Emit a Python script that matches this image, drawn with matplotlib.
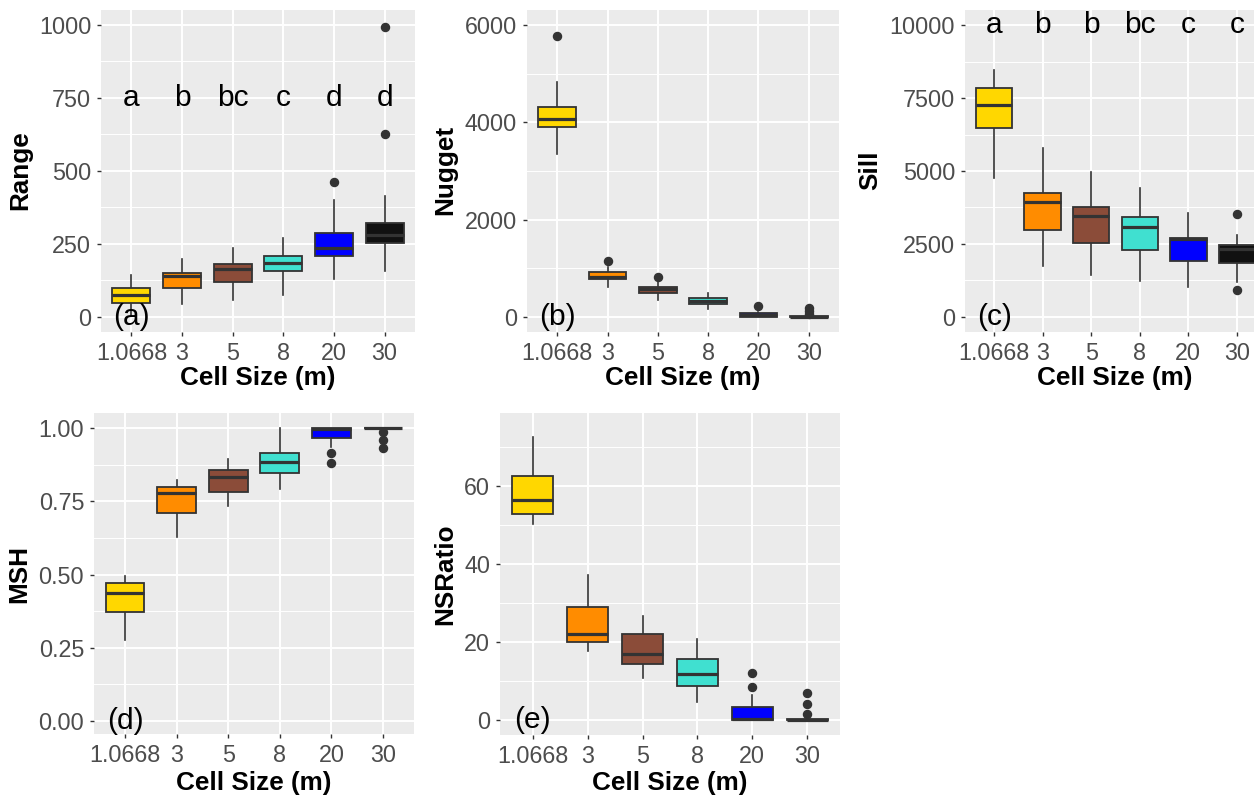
import numpy as np
import matplotlib
matplotlib.use('Agg')
import matplotlib.pyplot as plt

plt.rcParams['font.family'] = ['Liberation Sans', 'DejaVu Sans']

#---------------------------------- data ------------------------------------------

cell_sizes = ['1.0668', '3', '5', '8', '20', '30']
box_colors = ['#FFD700', '#FF8C00', '#8B4C39', '#40E0D0', '#0000FF', '#111111']

# Range
range_lo = [5, 45, 58, 75, 129, 158]
range_q1 = [47, 98, 121, 158, 210, 252]
range_med = [75, 140, 165, 186, 235, 281]
range_q3 = [98, 150, 180, 210, 287, 323]
range_hi = [144, 197, 235, 269, 400, 414]
range_out = [[], [], [], [], [463], [625, 992]]
range_letters = ['a', 'b', 'bc', 'c', 'd', 'd']

# Nugget
nugget_lo = [3350, 610, 350, 158, 0, 0]
nugget_q1 = [3897, 775, 487, 267, 0, 0]
nugget_med = [4069, 828, 582, 335, 40, 0]
nugget_q3 = [4322, 931, 623, 397, 80, 12]
nugget_hi = [4836, 1034, 725, 487, 110, 25]
nugget_out = [[5781], [1151], [828], [], [226], [60, 115, 175]]

# Sill
sill_lo = [4748, 1758, 1438, 1244, 1016, 1210]
sill_q1 = [6463, 2980, 2545, 2295, 1929, 1860]
sill_med = [7261, 3928, 3459, 3093, 2660, 2330]
sill_q3 = [7833, 4236, 3756, 3414, 2717, 2480]
sill_hi = [8460, 5777, 4977, 4407, 3573, 2808]
sill_out = [[], [], [], [], [], [925, 3516]]
sill_letters = ['a', 'b', 'b', 'bc', 'c', 'c']

# MSH
msh_lo = [0.276, 0.629, 0.734, 0.792, 0.936, 1.0]
msh_q1 = [0.373, 0.711, 0.783, 0.845, 0.967, 1.0]
msh_med = [0.438, 0.779, 0.834, 0.885, 0.998, 1.0]
msh_q3 = [0.472, 0.800, 0.857, 0.914, 1.0, 1.0]
msh_hi = [0.495, 0.823, 0.894, 0.999, 1.0, 1.0]
msh_out = [[], [], [], [], [0.880, 0.914], [0.930, 0.960, 0.985]]

# NSRatio
nsr_lo = [50.3, 17.8, 10.7, 4.7, 0, 0]
nsr_q1 = [52.8, 20.1, 14.3, 8.8, 0, 0]
nsr_med = [56.4, 22.0, 16.8, 11.8, 0.3, 0]
nsr_q3 = [62.6, 28.9, 22.0, 15.6, 3.3, 0.2]
nsr_hi = [72.5, 37.2, 26.7, 20.8, 6.4, 0.4]
nsr_out = [[], [], [], [], [8.5, 12.1], [1.5, 4.1, 6.8]]

#---------------------------------------------------------------------------------

W, H = 1254, 796
fig = plt.figure(figsize=(W / 100, H / 100), dpi=100)

GRAY20 = '#333333'
TICKCOL = '#4D4D4D'


def make_axes(x0, x1, y0, y1):
    # pixel box (top-left origin) -> figure fraction
    return fig.add_axes([x0 / W, 1 - y1 / H, (x1 - x0) / W, (y1 - y0) / H])


def draw_panel(ax, lo, q1, med, q3, hi, out, ylim, yticks, yticklabels, minor):
    stats = []
    for i in range(len(cell_sizes)):
        stats.append(dict(whislo=lo[i], q1=q1[i], med=med[i], q3=q3[i],
                          whishi=hi[i], fliers=out[i]))
    pos = np.arange(1, len(cell_sizes) + 1)
    ax.set_facecolor('#EBEBEB')
    for m in minor:
        ax.axhline(m, color='white', lw=0.7, zorder=0)
    for t in yticks:
        ax.axhline(t, color='white', lw=1.4, zorder=0)
    for p in pos:
        ax.axvline(p, color='white', lw=1.4, zorder=0)
    bp = ax.bxp(stats, positions=pos, widths=0.75, patch_artist=True,
                showcaps=False,
                boxprops=dict(edgecolor=GRAY20, linewidth=1.3),
                whiskerprops=dict(color=GRAY20, linewidth=1.2),
                medianprops=dict(color=GRAY20, linewidth=2.3),
                flierprops=dict(marker='o', markerfacecolor=GRAY20,
                                markeredgecolor=GRAY20, markersize=5.8))
    for patch, c in zip(bp['boxes'], box_colors):
        patch.set_facecolor(c)
    for w in bp['whiskers']:
        w.set_zorder(1)
    ax.set_xlim(0.4, 6.6)
    ax.set_ylim(*ylim)
    ax.set_xticks(pos)
    ax.set_xticklabels(cell_sizes)
    ax.set_yticks(yticks)
    ax.set_yticklabels(yticklabels)
    ax.tick_params(axis='both', colors=GRAY20, labelcolor=TICKCOL,
                   labelsize=16.8, length=2.6, width=1.0)
    ax.tick_params(axis='x', pad=4.5)
    ax.tick_params(axis='y', pad=4.5)
    for s in ax.spines.values():
        s.set_visible(False)


def fig_text(x, y, s, **kw):
    fig.text(x / W, 1 - y / H, s, **kw)


# (a) Range
ax_a = make_axes(101, 415, 10, 332)
draw_panel(ax_a, range_lo, range_q1, range_med, range_q3, range_hi, range_out,
           (-51.4, 1051), [0, 250, 500, 750, 1000], ['0', '250', '500', '750', '1000'],
           [125, 375, 625, 875])
for i, t in enumerate(range_letters):
    ax_a.text(i + 1, 750, t, ha='center', va='center', fontsize=21.5)
ax_a.text(1, 0, '(a)', ha='center', va='center', fontsize=21.5)

# (b) Nugget
ax_b = make_axes(527, 839, 10, 332)
draw_panel(ax_b, nugget_lo, nugget_q1, nugget_med, nugget_q3, nugget_hi, nugget_out,
           (-308, 6308), [0, 2000, 4000, 6000], ['0', '2000', '4000', '6000'],
           [1000, 3000, 5000])
ax_b.text(1, 0, '(b)', ha='center', va='center', fontsize=21.5)

# (c) Sill
ax_c = make_axes(965, 1266, 10, 332)
draw_panel(ax_c, sill_lo, sill_q1, sill_med, sill_q3, sill_hi, sill_out,
           (-514, 10514), [0, 2500, 5000, 7500, 10000],
           ['0', '2500', '5000', '7500', '10000'],
           [1250, 3750, 6250, 8750])
for i, t in enumerate(sill_letters):
    ax_c.text(i + 1, 10000, t, ha='center', va='center', fontsize=21.5)
ax_c.text(1, 0, '(c)', ha='center', va='center', fontsize=21.5)

# (d) MSH
ax_d = make_axes(94, 414, 413, 734)
draw_panel(ax_d, msh_lo, msh_q1, msh_med, msh_q3, msh_hi, msh_out,
           (-0.044, 1.051), [0, 0.25, 0.5, 0.75, 1.0],
           ['0.00', '0.25', '0.50', '0.75', '1.00'],
           [0.125, 0.375, 0.625, 0.875])
ax_d.text(1, 0, '(d)', ha='center', va='center', fontsize=21.5)

# (e) NSRatio
ax_e = make_axes(500, 840, 413, 735)
draw_panel(ax_e, nsr_lo, nsr_q1, nsr_med, nsr_q3, nsr_hi, nsr_out,
           (-3.85, 78.7), [0, 20, 40, 60], ['0', '20', '40', '60'],
           [10, 30, 50, 70])
ax_e.text(1, 0, '(e)', ha='center', va='center', fontsize=21.5)

#------------------------------- axis titles --------------------------------------

bold = dict(fontsize=18.8, fontweight='bold', ha='center', va='center')
fig_text(258, 378, 'Cell Size (m)', **bold)
fig_text(683, 378, 'Cell Size (m)', **bold)
fig_text(1115, 378, 'Cell Size (m)', **bold)
fig_text(254, 783, 'Cell Size (m)', **bold)
fig_text(670, 783, 'Cell Size (m)', **bold)

fig_text(20, 170, 'Range', rotation=90, **bold)
fig_text(445, 170, 'Nugget', rotation=90, **bold)
fig_text(870, 170, 'Sill', rotation=90, **bold)
fig_text(19, 574, 'MSH', rotation=90, **bold)
fig_text(445, 574, 'NSRatio', rotation=90, **bold)

fig.savefig('out.png', dpi=100)
